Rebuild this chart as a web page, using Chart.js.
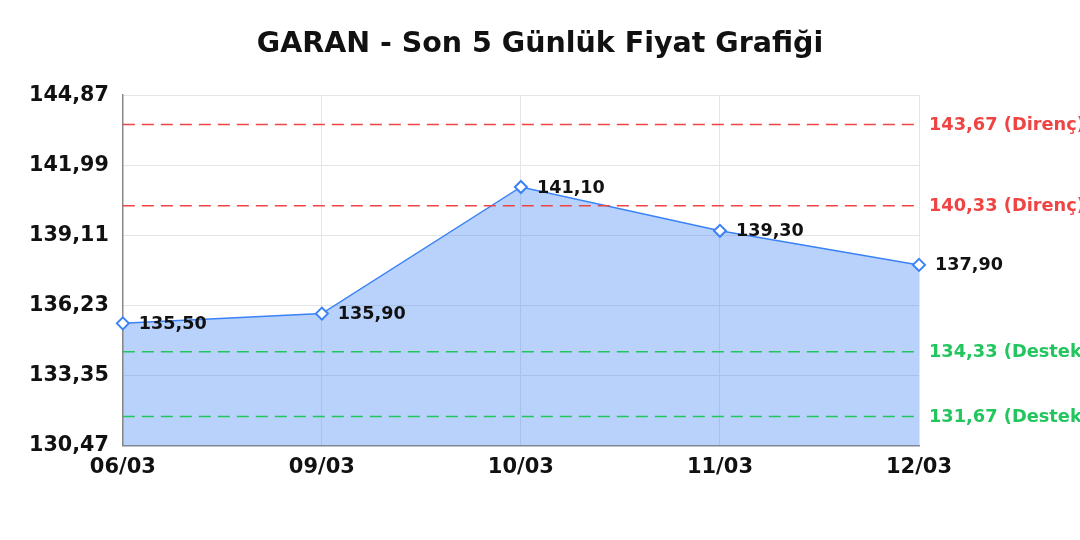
<!DOCTYPE html>
<html>
<head>
<meta charset="utf-8">
<script src="https://cdn.jsdelivr.net/npm/chart.js@4/dist/chart.umd.min.js"></script>
<style>
  html, body { margin: 0; padding: 0; background: #fff; }
  #wrap { width: 1080px; height: 540px; }
</style>
</head>
<body>
<div id="wrap"><canvas id="chart" width="1080" height="540"></canvas></div>
<script>
// chart data
const labels = ['06/03', '09/03', '10/03', '11/03', '12/03'];
const prices = [135.50, 135.90, 141.10, 139.30, 137.90];
const yTicks = [130.47, 133.35, 136.23, 139.11, 141.99, 144.87];
const resistance = [143.67, 140.33];
const support = [134.33, 131.67];

const fmt = (v) => v.toFixed(2).replace('.', ',');
const FONT = '"DejaVu Sans", "Verdana", sans-serif';

// dashed support/resistance lines + value labels next to points
const overlay = {
  id: 'overlay',
  afterDatasetsDraw(chart) {
    const { ctx, chartArea: a, scales } = chart;
    const y = scales.y;
    const x = scales.x;

    const levels = [
      ...resistance.map((v) => ({ v, color: '#ef4444', txt: ' (Direnç)' })),
      ...support.map((v) => ({ v, color: '#22c55e', txt: ' (Destek)' })),
    ];

    ctx.save();
    levels.forEach((l) => {
      const py = y.getPixelForValue(l.v);
      ctx.strokeStyle = l.color;
      ctx.lineWidth = 1.5;
      ctx.setLineDash([12, 7]);
      ctx.beginPath();
      ctx.moveTo(a.left, py);
      ctx.lineTo(a.right, py);
      ctx.stroke();

      ctx.setLineDash([]);
      ctx.fillStyle = l.color;
      ctx.font = 'bold 17.8px ' + FONT;
      ctx.textAlign = 'left';
      ctx.textBaseline = 'middle';
      ctx.fillText(fmt(l.v) + l.txt, a.right + 10, py + 1);
    });

    ctx.fillStyle = '#111';
    ctx.font = 'bold 17.6px ' + FONT;
    ctx.textAlign = 'left';
    ctx.textBaseline = 'middle';
    prices.forEach((p, i) => {
      ctx.fillText(fmt(p), x.getPixelForValue(i) + 16, y.getPixelForValue(p) + 1);
    });
    ctx.restore();
  },
};

const ctx = document.getElementById('chart').getContext('2d');
const chart = new Chart(ctx, {
  type: 'line',
  data: {
    labels: labels,
    datasets: [
      {
        label: 'GARAN',
        data: prices,
        borderColor: '#3b82f6',
        backgroundColor: 'rgba(59, 130, 246, 0.36)',
        borderWidth: 1.5,
        fill: 'start',
        tension: 0,
        pointStyle: 'rectRot',
        pointRadius: 6,
        pointBorderWidth: 2,
        pointBackgroundColor: '#fff',
        pointBorderColor: '#3b82f6',
      },
    ],
  },
  options: {
    responsive: false,
    devicePixelRatio: 1,
    animation: false,
    layout: { padding: { left: 0, top: 18, bottom: 51, right: 0 } },
    scales: {
      x: {
        offset: false,
        grid: { color: '#e5e5e5', drawTicks: false },
        border: { color: '#888', width: 1.5 },
        ticks: {
          color: '#111',
          padding: 9,
          font: { family: FONT, size: 21, weight: 'bold' },
          maxRotation: 0,
        },
      },
      y: {
        min: yTicks[0],
        max: yTicks[yTicks.length - 1],
        afterBuildTicks(s) {
          s.ticks = yTicks.map((v) => ({ value: v }));
        },
        afterFit(s) {
          s.width += 15;
        },
        grid: { color: '#e5e5e5', drawTicks: false },
        border: { color: '#888', width: 1.5 },
        ticks: {
          color: '#111',
          padding: 14,
          font: { family: FONT, size: 20.7, weight: 'bold' },
          callback: (v) => fmt(v),
        },
      },
      y2: {
        position: 'right',
        display: true,
        grid: { display: false },
        border: { display: false },
        ticks: { display: false },
        afterFit(s) {
          s.width = 161;
        },
      },
    },
    plugins: {
      legend: { display: false },
      tooltip: { enabled: false },
      title: {
        display: true,
        text: 'GARAN - Son 5 Günlük Fiyat Grafiği',
        color: '#111',
        font: { family: FONT, size: 28.5, weight: 'bold' },
        padding: { top: 9, bottom: 34 },
      },
    },
  },
  plugins: [overlay],
});
</script>
</body>
</html>
